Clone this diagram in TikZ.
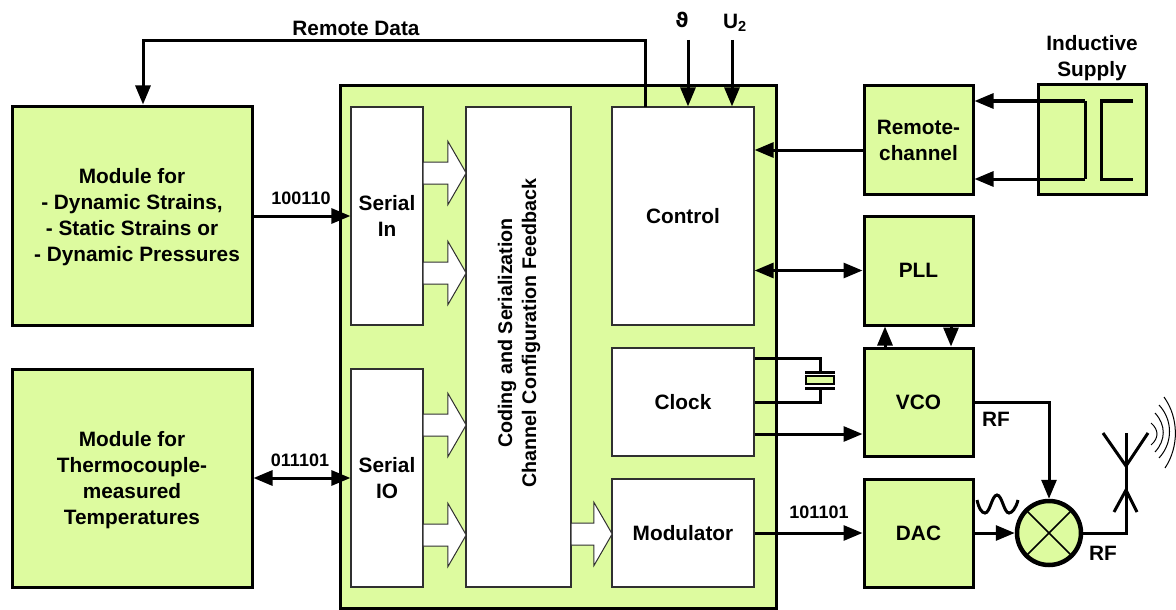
\documentclass[tikz,border=0pt]{standalone}
\usepackage{fontspec}
\setmainfont{Liberation Sans}
\newfontfamily\symfont{DejaVu Sans}
\usepackage{tikz}
\usetikzlibrary{arrows.meta,positioning,calc,shapes.arrows}
\definecolor{blockfill}{HTML}{DDFB9F}
\definecolor{innerline}{HTML}{303030}

\begin{document}
\begin{tikzpicture}[
  x=1pt, y=-1pt,
  block/.style={draw, line width=3pt, fill=blockfill, align=center, font=\fontsize{20.8}{26}\selectfont\bfseries, inner sep=0pt},
  sub/.style={draw=innerline, line width=1.2pt, fill=white, align=center, font=\fontsize{20.8}{26}\selectfont\bfseries, inner sep=0pt},
  flow/.style={draw=innerline, line width=1pt, fill=white, shape=single arrow, single arrow tip angle=120, single arrow head extend=20.5pt, minimum height=43pt, inner xsep=0pt, inner ysep=10.5pt},
  conn/.style={line width=3pt, -{Triangle[length=19pt, width=15pt]}},
  conn2/.style={line width=3pt, {Triangle[length=19pt, width=15pt]}-{Triangle[length=19pt, width=15pt]}},
  wire/.style={line width=3pt},
  txt/.style={font=\fontsize{20.8}{26}\selectfont\bfseries, inner sep=0pt, align=center},
  bits/.style={font=\fontsize{18}{20}\selectfont\bfseries, inner sep=0pt},
]
  \useasboundingbox (0,0) rectangle (1176,610);

  \node[block, minimum width=240pt, minimum height=219pt] (dyn) at (132,215.5) {};
  \node[txt] (dyntxt) at (132,217.5) {Module for\\- Dynamic Strains,\\- Static Strains or\\\hspace*{10pt}- Dynamic Pressures};
  \node[block, minimum width=240pt, minimum height=218pt] (thermo) at (132,478) {};
  \node[txt] (thermotxt) at (132,480) {Module for\\Thermocouple-\\measured\\Temperatures};

  \node[block, minimum width=436pt, minimum height=522pt] (chip) at (558,347) {};
  \node[sub, minimum width=72pt, minimum height=218pt] (serin) at (387,216) {Serial\\In};
  \node[sub, minimum width=72pt, minimum height=218pt] (serio) at (387,478) {Serial\\IO};
  \node[sub, minimum width=105pt, minimum height=480pt] (coding) at (518.5,347) {};
  \node[txt, rotate=90, font=\fontsize{19.7}{24}\selectfont\bfseries] (codingtxt) at (519,333) {Coding and Serialization\\Channel Configuration Feedback};
  \node[sub, minimum width=142pt, minimum height=218pt] (control) at (683,216) {Control};
  \node[sub, minimum width=142pt, minimum height=108pt] (clock) at (683,402) {Clock};
  \node[sub, minimum width=142pt, minimum height=108pt] (modul) at (683,533) {Modulator};

  \node[flow] (fa) at (441.5,173) {};
  \node[flow] (fb) at (441.5,273) {};
  \node[flow] (fc) at (441.5,425) {};
  \node[flow] (fd) at (441.5,535) {};
  \node[flow, minimum height=41pt] (fe) at (588.5,534) {};

  \node[block, minimum width=109pt, minimum height=108pt] (remote) at (918.5,140) {Remote-\\channel};
  \node[block, minimum width=109pt, minimum height=109pt] (pll) at (918.5,270.5) {PLL};
  \node[block, minimum width=109pt, minimum height=108pt] (vco) at (918.5,402) {VCO};
  \node[block, minimum width=109pt, minimum height=108pt] (dac) at (918.5,533) {DAC};
  \node[block, minimum width=108pt, minimum height=109pt] (supply) at (1092,139.5) {};
  \node[txt, above=2pt of supply] (supplytxt) {Inductive\\Supply};
  \node[draw, line width=4.5pt, fill=blockfill, circle, minimum size=64pt, inner sep=0pt] (mixer) at (1049,533) {};
  \draw[line width=1.5pt] (mixer.north west) -- (mixer.south east) (mixer.north east) -- (mixer.south west);

  % top inputs
  \coordinate (rdtap) at (645,107);
  \coordinate (thetain) at (688,40);
  \coordinate (uin) at (732,40);
  \draw[conn] (rdtap) |- (143,41) -- (143,0 |- dyn.north);
  \node[txt] (rdtxt) at (356,28) {Remote Data};
  \draw[conn] (thetain) -- (thetain |- control.north);
  \draw[conn] (uin) -- (uin |- control.north);
  \node[txt, font=\fontsize{20}{22}\selectfont\bfseries\symfont] (thetatxt) at (682,20) {ϑ};
  \node[txt] (utxt) at (735,23) {U\textsubscript{2}};

  % left side
  \draw[conn] (dyn.east |- serin.west) -- (serin.west);
  \draw[conn2] (thermo.east) -- (serio.west);
  \node[bits] (bitsa) at (301,198) {100110};
  \node[bits] (bitsb) at (300,460) {011101};

  % right side
  \draw[conn] (remote.west |- 0,150) -- (control.east |- 0,150);
  \draw[conn2] (control.east |- pll.west) -- (pll.west);
  \draw[conn] (885,0 |- vco.north) -- (885,0 |- pll.south);
  \draw[conn] (951,0 |- pll.south) -- (951,0 |- vco.north);
  \draw[conn] (clock.east |- 0,434) -- (vco.west |- 0,434);
  \draw[conn] (modul.east) -- (dac.west);
  \node[bits] (bitsc) at (819,512) {101101};

  % inductive coil
  \coordinate (coila) at (1085,101);
  \coordinate (coilb) at (1085,179);
  \draw[conn] (coila) -- (remote.east |- coila);
  \draw[conn] (coilb) -- (remote.east |- coilb);
  \draw[wire] (coila) -- (coilb);
  \draw[wire] (1133,101) -- (1101,101) -- (1101,179) -- (1133,179);

  % crystal
  \draw[wire] (clock.east |- 0,358) -| (820,372);
  \draw[wire] (clock.east |- 0,402) -| (820,388);
  \draw[wire] (805,372) -- (835,372) (805,388) -- (835,388);
  \draw[line width=2.5pt, fill=blockfill] (806,376) rectangle (834,384);

  % RF path
  \draw[conn] (vco.east |- 0,402) -| (mixer.north);
  \node[txt] (rfa) at (996,419) {RF};
  \draw[conn] (dac.east) -- (mixer.west);
  \draw[line width=3pt] (977,500) .. controls (979,509) and (982,513) .. (985,513) .. controls (990,513) and (992,495) .. (997,495) .. controls (1002,495) and (1004,513) .. (1009,513) .. controls (1012,513) and (1016,508) .. (1018,500);
  \draw[wire] (mixer.east) -- (1126,533) -- (1126,433);
  \node[txt] (rfb) at (1103,553) {RF};
  \draw[wire] (1103,433) -- (1126,466) -- (1148,433);
  \draw[wire] (1114,512) -- (1126,490) -- (1137,512);
  \draw[line width=1pt] (1151,423) .. controls (1159,430) and (1159,438) .. (1151,445);
  \draw[line width=1pt] (1155,413) .. controls (1166,425) and (1166,440) .. (1155,452);
  \draw[line width=1pt] (1159,405) .. controls (1173,420) and (1173,443) .. (1159,458);
  \draw[line width=1pt] (1164,397) .. controls (1179,418) and (1179,447) .. (1165,468);
\end{tikzpicture}
\end{document}
